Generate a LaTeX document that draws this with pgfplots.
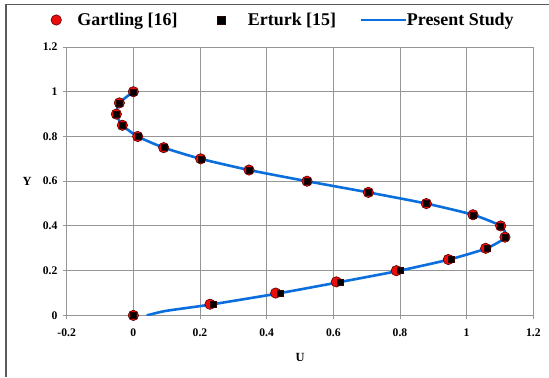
\documentclass[border=0pt]{standalone}
\usepackage{pgfplots}
\pgfplotsset{compat=1.18}
\usepackage{fontspec}
\setmainfont{Liberation Serif}
\definecolor{gridgray}{RGB}{150,150,150}
\definecolor{pblue}{RGB}{10,110,220}
\definecolor{gred}{RGB}{235,12,12}
\definecolor{gdark}{RGB}{90,0,0}
\definecolor{frame}{RGB}{90,90,90}
\pgfplotsset{
  legcirc/.style={legend image code/.code={\path (-5bp,0bp) (21bp,0bp); \draw[##1] plot coordinates {(0bp,0bp)};}},
  legsq/.style={legend image code/.code={\path (-43bp,0bp) (27bp,0bp); \draw[##1, mark size=4bp] plot coordinates {(0bp,0bp)};}},
  legline/.style={legend image code/.code={\path (-23bp,0bp) (45bp,0bp); \draw[##1] (0bp,0bp) -- (45bp,0bp);}},
}
\begin{document}
\begin{tikzpicture}[x=1bp,y=1bp]
\path[use as bounding box] (0,0) rectangle (549,377);
\draw[frame, line width=1bp] (5,372) -- (549,372);
\draw[frame, line width=1.3bp] (6,0) -- (6,372);
\begin{axis}[
  at={(66.7bp,61.6bp)}, anchor=south west,
  scale only axis, width=466.6bp, height=268.4bp,
  xmin=-0.2, xmax=1.2, ymin=0, ymax=1.2,
  xtick={-0.2,0,0.2,0.4,0.6,0.8,1,1.2},
  xticklabels={-0.2,0,0.2,0.4,0.6,0.8,1,1.2},
  ytick={0,0.2,0.4,0.6,0.8,1,1.2},
  yticklabels={0,0.2,0.4,0.6,0.8,1,1.2},
  grid=major,
  major grid style={gridgray, line width=0.9bp},
  axis line style={gridgray, line width=0.9bp},
  tick style={gridgray, line width=0.9bp},
  tick align=outside, major tick length=4bp, tick pos=left,
  tick label style={font=\fontsize{11.7}{13}\selectfont\bfseries},
  xticklabel style={anchor=north, yshift=-6bp},
  yticklabel style={anchor=east, xshift=-1.7bp},
  xlabel={U}, ylabel={Y},
  label style={font=\fontsize{12.5}{14}\selectfont\bfseries},
  xlabel style={at={(axis description cs:0.5,-0.155)}, anchor=center},
  ylabel style={at={(axis description cs:-0.085,0.5)}, anchor=center, rotate=-90},
  legend columns=3,
  legend cell align=left,
  legend style={at={(axis description cs:-0.034,1.1006)}, anchor=west,
    draw=none, fill=none, inner sep=0pt, column sep=0pt,
    nodes={inner sep=0pt},
    font=\fontsize{18}{21}\selectfont\bfseries},
]
\addplot[pblue, line width=2.6bp, smooth, tension=0.35, forget plot] coordinates {
(0.04,0) (0.097,0.02) (0.230,0.048) (0.430,0.097) (0.612,0.147) (0.792,0.198)
(0.948,0.25) (1.06,0.30) (1.117,0.35) (1.102,0.40) (1.019,0.45) (0.879,0.50)
(0.705,0.55) (0.521,0.60) (0.347,0.65) (0.202,0.70) (0.091,0.75) (0.013,0.80)
(-0.033,0.85) (-0.051,0.90) (-0.042,0.95) (0,1.0)};
\addplot[only marks, mark=*, mark size=5.2bp, mark options={fill=gred, draw=gdark, line width=0.6bp}, legcirc] coordinates {
(0,0) (0.230,0.05) (0.427,0.10) (0.609,0.15) (0.789,0.20) (0.945,0.25) (1.057,0.30)
(1.115,0.35) (1.102,0.40) (1.019,0.45) (0.879,0.50) (0.705,0.55) (0.521,0.60)
(0.347,0.65) (0.202,0.70) (0.091,0.75) (0.013,0.80) (-0.033,0.85) (-0.051,0.90)
(-0.042,0.95) (0,1.0)};
\addlegendentry{Gartling [16]}
\addplot[only marks, mark=square*, mark size=3bp, mark options={fill=black, draw=black!80!red, line width=0.4bp}, legsq] coordinates {
(0,0) (0.240,0.05) (0.440,0.10) (0.622,0.15) (0.800,0.20) (0.953,0.25) (1.062,0.30)
(1.117,0.35) (1.102,0.40) (1.020,0.45) (0.880,0.50) (0.706,0.55) (0.521,0.60)
(0.347,0.65) (0.203,0.70) (0.092,0.75) (0.014,0.80) (-0.033,0.85) (-0.050,0.90)
(-0.041,0.95) (0,1.0)};
\addlegendentry{Erturk [15]}
\addlegendimage{pblue, line width=2.8bp, legline}
\addlegendentry{Present Study}
\end{axis}
\end{tikzpicture}
\end{document}
